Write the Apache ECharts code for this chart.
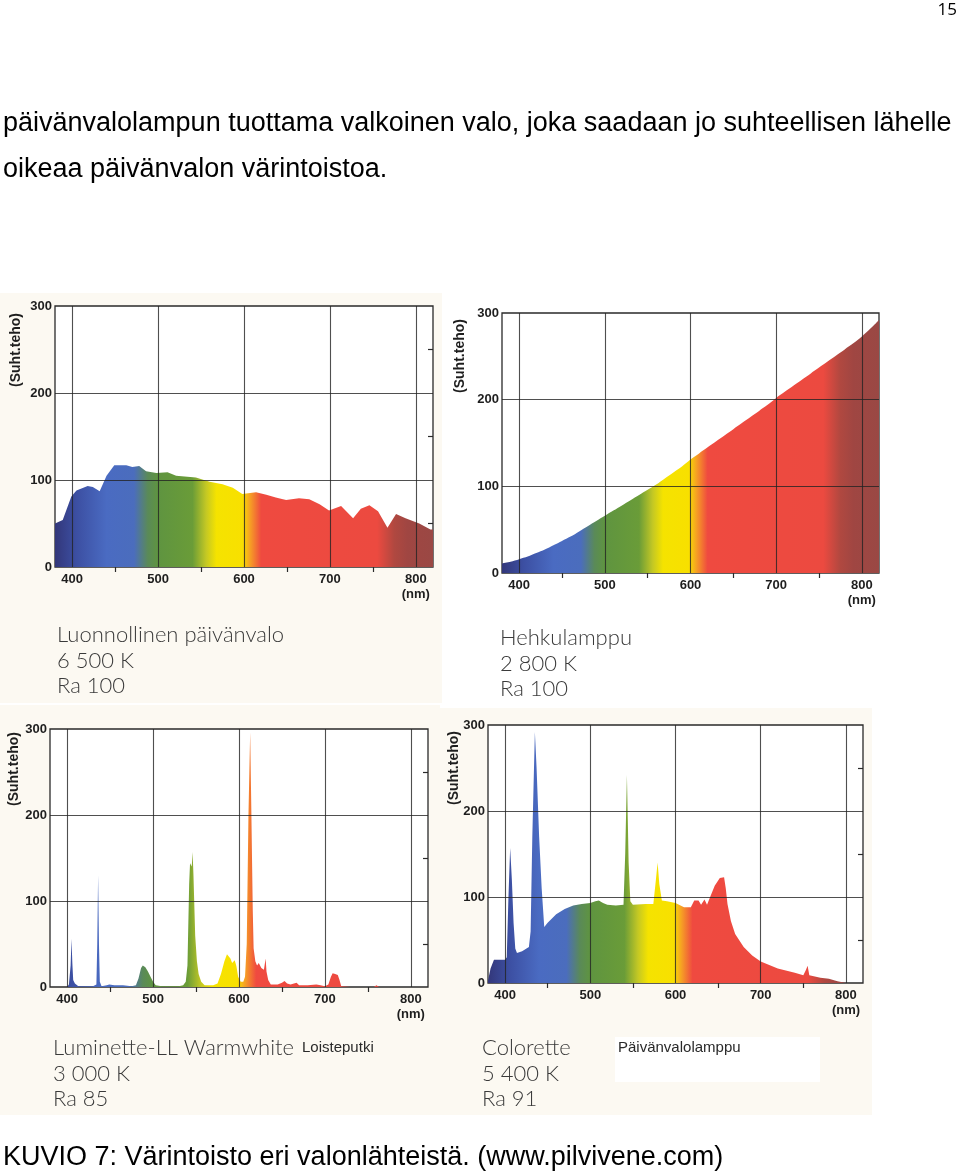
<!DOCTYPE html>
<html><head><meta charset="utf-8">
<script src="https://cdn.jsdelivr.net/npm/echarts@6/dist/echarts.min.js"></script>
<style>html,body{margin:0;padding:0;background:#fff}#c{width:960px;height:1175px}</style>
</head><body><div id="c"></div>
<script>
// ---- data ----
const xLabelValues = [400, 500, 600, 700, 800];
const xMinorTicks = [450, 550, 650, 750];
const yMinorTicks = [50, 150, 250];
const gridYValues = [100, 200];

// Luonnollinen päivänvalo 6500 K  [nm, suht. teho]
const daylight = [[380,50],[389,54],[399,81],[405,88],[418,93],[424,92],[432,87],[440,105],[449,117],[463,117],[470,115],[478,116],[486,110],[498,108],[511,109],[521,105],[544,103],[560,98],[575,95],[587,91],[598,84],[614,86],[626,83],[637,80],[649,77],[664,79],[676,78],[688,72],[699,65],[713,70],[727,56],[736,67],[746,71],[756,64],[767,45],[777,61],[788,56],[804,50],[817,43],[820,43]];

// Hehkulamppu 2800 K
const incandescentNm = [380,390,400,410,420,430,440,450,460,470,480,490,500,510,520,530,540,550,560,570,580,590,600,610,620,630,640,650,660,670,680,690,700,710,720,730,740,750,760,770,780,790,800,810,820];
const incandescentVal = [11,13,16,19,23,27,32,37,42,48,54,60,66,72,78,84,90,96,102,109,116,123,131,138,145,152,159,166,173,180,187,194,202,209,216,223,230,237,244,251,258,265,273,282,292];

// Luminette-LL Warmwhite 3000 K
const fluorescent = [[380,0],[400,0],[402,3],[404,25],[405,56],[406,28],[407,8],[409,4],[411,5],[413,1],[430,1],[434,3],[435,50],[436,130],[437,50],[438,6],[440,1],[446,2],[449,3],[455,2],[465,2],[475,1],[480,2],[483,10],[486,22],[488,25],[491,23],[494,18],[497,12],[500,6],[503,2],[510,1],[530,1],[535,2],[538,6],[540,25],[542,120],[543,144],[545,140],[546,157],[547,130],[549,60],[551,30],[553,15],[556,6],[560,2],[570,2],[575,4],[579,15],[583,30],[586,38],[588,40],[590,33],[592,28],[595,31],[597,24],[599,12],[602,6],[605,6],[607,12],[609,50],[611,200],[613,296],[614,230],[616,90],[617,45],[619,30],[621,25],[623,28],[626,22],[629,20],[631,33],[632,18],[634,8],[637,3],[645,3],[650,5],[653,7],[656,4],[660,3],[664,4],[667,5],[670,2],[680,2],[690,3],[695,2],[700,1],[704,3],[707,12],[709,16],[712,15],[715,14],[717,8],[719,1],[730,0],[757,0],[760,2],[763,0],[820,0]];

// Colorette 5400 K
const colorette = [[380,3],[383,17],[387,27],[400,27],[402,30],[404,100],[406,157],[408,120],[410,70],[412,40],[414,35],[420,37],[428,42],[430,60],[432,170],[435,292],[437,250],[440,170],[443,110],[446,65],[450,70],[460,80],[470,86],[480,90],[490,92],[500,93],[506,95],[510,96],[515,93],[520,91],[530,90],[539,91],[541,150],[543,242],[545,140],[547,95],[550,91],[565,92],[574,92],[577,120],[579,140],[581,115],[584,96],[590,95],[600,93],[610,88],[618,88],[622,96],[627,96],[630,91],[634,97],[637,91],[641,101],[646,113],[652,122],[657,123],[659,110],[661,92],[665,72],[670,57],[680,42],[690,32],[700,25],[720,17],[740,12],[750,9],[753,15],[755,20],[757,9],[770,6],[780,5],[790,2],[800,0],[820,0]];

const panelTitles = [
  ['Luonnollinen päivänvalo', '6 500 K', 'Ra 100'],
  ['Hehkulamppu', '2 800 K', 'Ra 100'],
  ['Luminette-LL Warmwhite', '3 000 K', 'Ra 85'],
  ['Colorette', '5 400 K', 'Ra 91']
];
const yAxisTitle = '(Suht.teho)';

// ---- styling / layout ----
const X_MIN = 380, X_MAX = 820;
const spectrumStops = [
  [380, '#33377a'], [405, '#3c4fa2'], [440, '#4a6bc2'], [472, '#4b6dbd'],
  [488, '#5a8a58'], [500, '#5f9440'], [540, '#6a9c38'], [556, '#c4c824'],
  [568, '#f5e300'], [598, '#f8e000'], [607, '#f6a024'], [620, '#ef4a40'],
  [755, '#ec4a40'], [775, '#b04840'], [790, '#a04642'], [820, '#9a4844']
];
function spectrum() {
  return new echarts.graphic.LinearGradient(0, 0, 1, 0,
    spectrumStops.map(s => ({ offset: (s[0] - X_MIN) / (X_MAX - X_MIN), color: s[1] })));
}
const grids = [
  { left: 55, top: 306, width: 378, height: 261 },
  { left: 502, top: 313, width: 377, height: 260 },
  { left: 50, top: 729, width: 378, height: 258 },
  { left: 488, top: 725, width: 375, height: 258 }
];
const seriesData = [
  daylight,
  incandescentNm.map((x, i) => [x, incandescentVal[i]]),
  fluorescent,
  colorette
];
const tickFont = { fontFamily: 'Liberation Sans', fontWeight: 'bold', fontSize: 13, color: '#1e1e1e' };

const option = {
  animation: false,
  backgroundColor: '#ffffff',
  grid: grids.map(g => Object.assign({ show: true, backgroundColor: '#ffffff', borderColor: '#2a2a2a', borderWidth: 1.3, containLabel: false, outerBoundsMode: 'none' }, g)),
  xAxis: [], yAxis: [], series: [], graphic: []
};

grids.forEach((g, i) => {
  option.xAxis.push({
    type: 'value', gridIndex: i, min: X_MIN, max: X_MAX, position: 'bottom',
    axisLine: { show: false }, axisTick: { show: false }, splitLine: { show: false },
    axisLabel: Object.assign({ customValues: xLabelValues, margin: 5, lineHeight: 15,
      formatter: v => v === 800 ? '800\n(nm)' : String(v) }, tickFont)
  });
  option.xAxis.push({
    type: 'value', gridIndex: i, min: X_MIN, max: X_MAX, position: 'top',
    axisLine: { show: false }, splitLine: { show: false },
    axisTick: { show: true, inside: true, length: 5, customValues: xMinorTicks, lineStyle: { color: '#2a2a2a', width: 1.2 } },
    axisLabel: { show: false, customValues: xMinorTicks }
  });
  option.yAxis.push({
    type: 'value', gridIndex: i, min: 0, max: 300, interval: 100, position: 'left',
    axisLine: { show: false }, axisTick: { show: false }, splitLine: { show: false },
    axisLabel: Object.assign({ margin: 3 }, tickFont)
  });
  option.yAxis.push({
    type: 'value', gridIndex: i, min: 0, max: 300, position: 'right',
    axisLine: { show: false }, splitLine: { show: false },
    axisTick: { show: true, inside: true, length: 5, customValues: yMinorTicks, lineStyle: { color: '#2a2a2a', width: 1.2 } },
    axisLabel: { show: false, customValues: yMinorTicks }
  });
  option.series.push({
    type: 'line', xAxisIndex: 2 * i, yAxisIndex: 2 * i,
    data: seriesData[i], symbol: 'none', smooth: i === 1 ? 0.3 : false,
    lineStyle: { width: 0 },
    areaStyle: { color: spectrum(), opacity: 1 },
    silent: true,
    markLine: {
      silent: true, symbol: 'none', label: { show: false },
      lineStyle: { color: 'rgba(35,35,35,0.8)', type: 'solid', width: 1.1 },
      data: xLabelValues.map(v => ({ xAxis: v })).concat(gridYValues.map(v => ({ yAxis: v })))
    }
  });
});

// backgrounds of the scanned panels
const cream = '#fcf9f2';
option.graphic.push(
  { type: 'rect', z: -100, shape: { x: 0, y: 293, width: 442, height: 410 }, style: { fill: cream } },
  { type: 'rect', z: -100, shape: { x: 0, y: 705, width: 440, height: 410 }, style: { fill: cream } },
  { type: 'rect', z: -100, shape: { x: 437, y: 708, width: 435, height: 407 }, style: { fill: cream } },
  { type: 'rect', z: -99, shape: { x: 615, y: 1037, width: 205, height: 45 }, style: { fill: '#ffffff' } }
);

// y axis titles
const yTitlePos = [[16, 350], [460, 356], [14, 769], [454, 768]];
yTitlePos.forEach(p => option.graphic.push({
  type: 'text', x: p[0], y: p[1], rotation: Math.PI / 2,
  style: { text: yAxisTitle, fontFamily: 'Liberation Sans', fontWeight: 'bold', fontSize: 14, fill: '#1e1e1e', align: 'center', verticalAlign: 'middle', textAlign: 'center', textVerticalAlign: 'middle' }
}));

// panel captions
const titlePos = [[57, 635], [500, 638], [53, 1048], [482, 1048]];
titlePos.forEach((p, i) => panelTitles[i].forEach((t, j) => option.graphic.push({
  type: 'text', x: p[0], y: p[1] + j * 25.5,
  style: { text: t, fontFamily: 'Lato', fontWeight: 300, fontSize: 22, fill: '#3a3a3a', verticalAlign: 'middle', textVerticalAlign: 'middle' }
})));
option.graphic.push(
  { type: 'text', x: 302, y: 1048, style: { text: 'Loisteputki', fontFamily: 'Liberation Sans', fontSize: 15, fill: '#2a2a2a', verticalAlign: 'middle', textVerticalAlign: 'middle' } },
  { type: 'text', x: 618, y: 1048, style: { text: 'Päivänvalolamppu', fontFamily: 'Liberation Sans', fontSize: 15, fill: '#2a2a2a', verticalAlign: 'middle', textVerticalAlign: 'middle' } }
);

// page text
option.graphic.push(
  { type: 'text', x: 957, y: 10, style: { text: '15', fontFamily: 'Open Sans', fontSize: 17, fill: '#000', align: 'right', textAlign: 'right', verticalAlign: 'middle', textVerticalAlign: 'middle' } },
  { type: 'text', x: 3, y: 124, style: { text: 'päivänvalolampun tuottama valkoinen valo, joka saadaan jo suhteellisen lähelle', fontFamily: 'Liberation Sans', fontSize: 27, fill: '#000', verticalAlign: 'middle', textVerticalAlign: 'middle' } },
  { type: 'text', x: 3, y: 170, style: { text: 'oikeaa päivänvalon värintoistoa.', fontFamily: 'Liberation Sans', fontSize: 27, fill: '#000', verticalAlign: 'middle', textVerticalAlign: 'middle' } },
  { type: 'text', x: 3, y: 1158, style: { text: 'KUVIO 7: Värintoisto eri valonlähteistä. (www.pilvivene.com)', fontFamily: 'Liberation Sans', fontSize: 27, fill: '#000', verticalAlign: 'middle', textVerticalAlign: 'middle' } }
);

const chart = echarts.init(document.getElementById('c'), null, { renderer: 'canvas' });
chart.setOption(option);
</script>
</body></html>
